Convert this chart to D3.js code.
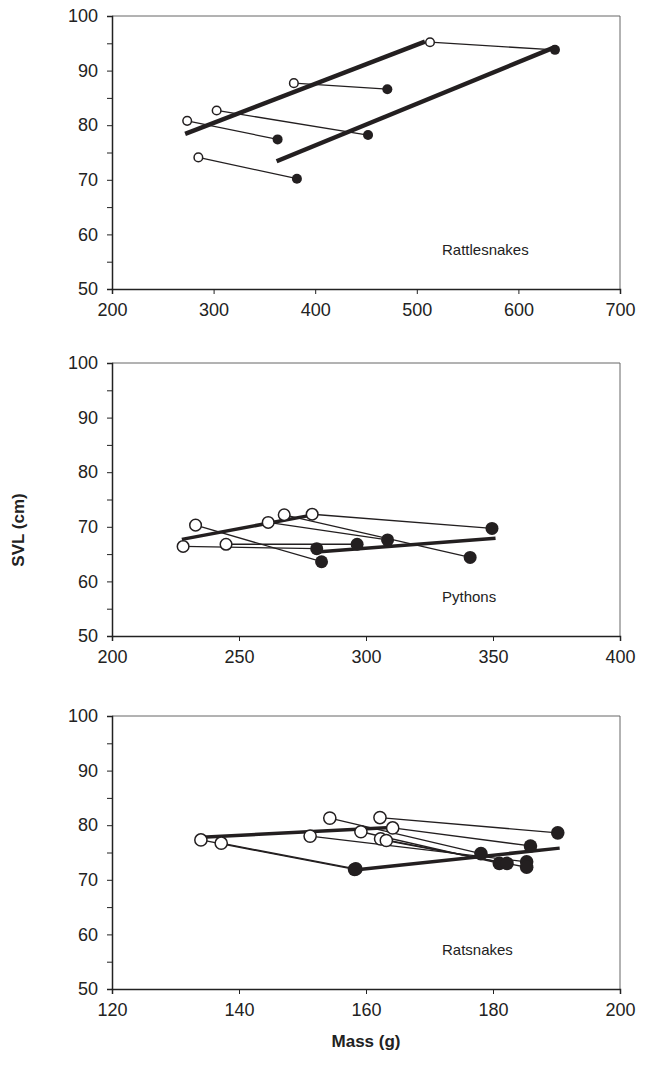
<!DOCTYPE html>
<html>
<head>
<meta charset="utf-8">
<script src="https://cdn.jsdelivr.net/npm/d3@7"></script>
<style>
  body { margin: 0; background: #fff; }
  svg { display: block; font-family: "Liberation Sans", Arial, sans-serif; }
</style>
</head>
<body>
<div id="chart"></div>
<script>
// ---- data (mass g, SVL cm) : before feeding (open) -> after feeding (filled)
var rattleOpen   = [[513, 95.2], [379, 87.7], [303, 82.7], [274, 80.8], [285, 74.1]];
var rattleFilled = [[636, 93.8], [471, 86.6], [452, 78.2], [363, 77.4], [382, 70.2]];
var rattleFits   = [[[272, 78.4], [508, 95.3]], [[362, 73.4], [636, 94.3]]];

var pythonOpen   = [[232.9, 70.3], [228, 66.4], [244.9, 66.8], [261.5, 70.8], [267.8, 72.2], [278.8, 72.3]];
var pythonFilled = [[282.5, 63.6], [280.6, 66.0], [296.5, 66.8], [308.5, 67.6], [341, 64.4], [349.6, 69.7]];
var pythonFits   = [[[227.5, 67.7], [277, 72.0]], [[280.6, 65.4], [351, 67.9]]];

var ratOpen   = [[134.0, 77.3], [137.2, 76.7], [151.2, 78.0], [154.3, 81.3], [159.2, 78.8], [162.2, 81.4], [162.3, 77.5], [163.2, 77.2], [164.2, 79.5]];
var ratFilled = [[158.2, 71.9], [158.4, 72.0], [185.3, 73.3], [178.1, 74.8], [181.0, 73.0], [190.2, 78.6], [182.2, 73.0], [185.3, 72.3], [185.9, 76.2]];
var ratFits   = [[[134.1, 77.8], [164, 79.6]], [[158.2, 71.8], [190.5, 75.8]]];

var yTicks = [50, 60, 70, 80, 90, 100];

var panels = [
  { name: "Rattlesnakes", open: rattleOpen, filled: rattleFilled, fits: rattleFits,
    xDomain: [200, 700], xTicks: [200, 300, 400, 500, 600, 700], top: 16, r: 5, fitW: 4.5 },
  { name: "Pythons", open: pythonOpen, filled: pythonFilled, fits: pythonFits,
    xDomain: [200, 400], xTicks: [200, 250, 300, 350, 400], top: 363, r: 6.5, fitW: 3.5 },
  { name: "Ratsnakes", open: ratOpen, filled: ratFilled, fits: ratFits,
    xDomain: [120, 200], xTicks: [120, 140, 160, 180, 200], top: 716, r: 6.8, fitW: 3.5 }
];

var W = 648, H = 1069;
var left = 112, right = 620, ph = 273;

var svg = d3.select("#chart").append("svg")
  .attr("width", W).attr("height", H);

panels.forEach(function(p) {
  var x = d3.scaleLinear().domain(p.xDomain).range([left, right]);
  var y = d3.scaleLinear().domain([50, 100]).range([p.top + ph, p.top]);
  var g = svg.append("g");

  // frame (top/right)
  g.append("path")
    .attr("d", "M" + left + "," + p.top + "H" + right + "V" + (p.top + ph))
    .attr("fill", "none").attr("stroke", "#666").attr("stroke-width", 1);

  // y axis with minor ticks
  var yAx = g.append("g").attr("transform", "translate(" + left + ",0)")
    .call(d3.axisLeft(y).tickValues(d3.range(50, 101, 5)).tickSize(5).tickPadding(9)
      .tickFormat(function(d) { return yTicks.indexOf(d) >= 0 ? d : ""; }));
  var xAx = g.append("g").attr("transform", "translate(0," + (p.top + ph) + ")")
    .call(d3.axisBottom(x).tickValues(p.xTicks).tickSize(5).tickPadding(9));
  [yAx, xAx].forEach(function(a) {
    a.select(".domain").attr("stroke", "#222").attr("stroke-width", 1.5);
    a.selectAll(".tick line").attr("stroke", "#222");
    a.selectAll("text").attr("font-size", 18).attr("fill", "#222")
      .attr("font-family", "'Liberation Sans', Arial, sans-serif");
  });

  // pair lines
  g.selectAll(".pair").data(p.open).enter().append("line")
    .attr("x1", function(d) { return x(d[0]); })
    .attr("y1", function(d) { return y(d[1]); })
    .attr("x2", function(d, i) { return x(p.filled[i][0]); })
    .attr("y2", function(d, i) { return y(p.filled[i][1]); })
    .attr("stroke", "#231f20").attr("stroke-width", 1.3);

  // fitted lines
  g.selectAll(".fit").data(p.fits).enter().append("line")
    .attr("x1", function(d) { return x(d[0][0]); })
    .attr("y1", function(d) { return y(d[0][1]); })
    .attr("x2", function(d) { return x(d[1][0]); })
    .attr("y2", function(d) { return y(d[1][1]); })
    .attr("stroke", "#231f20").attr("stroke-width", p.fitW);

  g.selectAll(".filled").data(p.filled).enter().append("circle")
    .attr("cx", function(d) { return x(d[0]); })
    .attr("cy", function(d) { return y(d[1]); })
    .attr("r", p.r).attr("fill", "#231f20");

  g.selectAll(".open").data(p.open).enter().append("circle")
    .attr("cx", function(d) { return x(d[0]); })
    .attr("cy", function(d) { return y(d[1]); })
    .attr("r", p.r - 0.7).attr("fill", "#fff")
    .attr("stroke", "#231f20").attr("stroke-width", 1.5);

  g.append("text").attr("x", 442).attr("y", p.top + ph - 34)
    .attr("font-size", 15).attr("fill", "#222").text(p.name);
});

svg.append("text")
  .attr("transform", "translate(24,530) rotate(-90)")
  .attr("text-anchor", "middle").attr("font-size", 17).attr("font-weight", "bold")
  .attr("fill", "#222").text("SVL (cm)");

svg.append("text")
  .attr("x", 366).attr("y", 1047)
  .attr("text-anchor", "middle").attr("font-size", 17).attr("font-weight", "bold")
  .attr("fill", "#222").text("Mass (g)");
</script>
</body>
</html>
